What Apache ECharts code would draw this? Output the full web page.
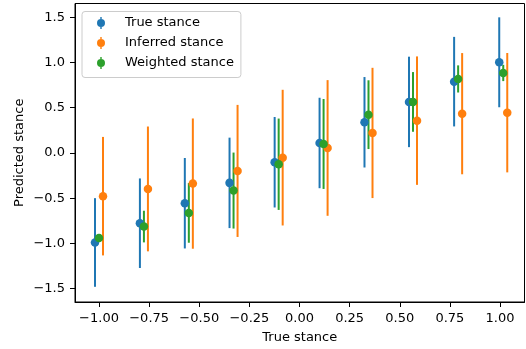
<!DOCTYPE html>
<html>
<head>
<meta charset="utf-8">
<script src="https://cdn.jsdelivr.net/npm/echarts@6/dist/echarts.min.js"></script>
<style>
  html, body { margin: 0; padding: 0; background: #fff; }
  #chart { width: 526px; height: 349px; }
</style>
</head>
<body>
<div id="chart"></div>
<script>
// true-stance bins (x of the blue points); other series sit slightly right of them
const binX = [-1.02, -0.796, -0.572, -0.349, -0.124, 0.1, 0.324, 0.546, 0.771, 0.996];

// [mean, error] per bin
const trueStance = [
  [-0.99, 0.49], [-0.777, 0.495], [-0.556, 0.5], [-0.331, 0.5], [-0.103, 0.5],
  [0.11, 0.5], [0.339, 0.5], [0.564, 0.5], [0.788, 0.495], [1.002, 0.497]
];
const inferredStance = [
  [-0.478, 0.655], [-0.398, 0.69], [-0.339, 0.72], [-0.199, 0.73], [-0.052, 0.75],
  [0.055, 0.75], [0.221, 0.72], [0.357, 0.71], [0.434, 0.67], [0.445, 0.66]
];
const weightedStance = [
  [-0.94, 0.04], [-0.814, 0.175], [-0.663, 0.33], [-0.416, 0.42], [-0.125, 0.505],
  [0.099, 0.497], [0.423, 0.38], [0.564, 0.33], [0.818, 0.15], [0.884, 0.09]
];

const xTicks = [-1, -0.75, -0.5, -0.25, 0, 0.25, 0.5, 0.75, 1];
const yTicks = [-1.5, -1, -0.5, 0, 0.5, 1, 1.5];

const FONT = 'DejaVu Sans';
const minus = (v, d) => (v < 0 ? '\u2212' : '') + Math.abs(v).toFixed(d);

// errorbar marker for the legend: dot with a vertical bar through it
const legendIcon = 'path://M0,6A4,4,0,1,1,8,6A4,4,0,1,1,0,6ZM3.3,0L4.7,0L4.7,12L3.3,12Z';

const groups = [
  { name: 'True stance', color: '#1f77b4', data: trueStance, dx: 0 },
  { name: 'Inferred stance', color: '#ff7f0e', data: inferredStance, dx: 0.04 },
  { name: 'Weighted stance', color: '#2ca02c', data: weightedStance, dx: 0.02 }
];

const series = [];
groups.forEach((g) => {
  const rows = g.data.map((d, i) => [binX[i] + g.dx, d[0], d[1]]);
  series.push({
    type: 'custom',
    name: g.name,
    data: rows,
    itemStyle: { color: g.color },
    z: 2,
    renderItem: (params, api) => {
      const x = api.value(0), y = api.value(1), e = api.value(2);
      const a = api.coord([x, y - e]);
      const b = api.coord([x, y + e]);
      return {
        type: 'line',
        shape: { x1: a[0], y1: a[1], x2: b[0], y2: b[1] },
        style: { stroke: g.color, lineWidth: 2 }
      };
    }
  });
  series.push({
    type: 'scatter',
    name: g.name,
    data: rows.map((r) => [r[0], r[1]]),
    symbol: 'circle',
    symbolSize: 8.5,
    itemStyle: { color: g.color, opacity: 1 },
    z: 2
  });
});

const chart = echarts.init(document.getElementById('chart'), null, { renderer: 'canvas' });
chart.setOption({
  animation: false,
  backgroundColor: '#fff',
  textStyle: { fontFamily: FONT },
  grid: { left: 75, top: 3.5, right: 1.5, bottom: 46.3, show: true, borderColor: '#000', borderWidth: 1 },
  legend: {
    orient: 'vertical',
    left: 82,
    top: 11.5,
    padding: [5, 7, 8, 15],
    itemGap: 7,
    itemWidth: 8,
    itemHeight: 12,
    backgroundColor: 'rgba(255,255,255,0.8)',
    borderColor: '#cccccc',
    borderWidth: 1,
    borderRadius: 3,
    textStyle: { fontFamily: FONT, fontSize: 13, color: '#000', padding: [0, 0, 0, 15] },
    data: groups.map((g) => ({ name: g.name, icon: legendIcon }))
  },
  xAxis: {
    type: 'value',
    min: -1.1197,
    max: 1.122,
    name: 'True stance',
    nameLocation: 'middle',
    nameGap: 29,
    nameMoveOverlap: false,
    nameTextStyle: { fontFamily: FONT, fontSize: 13, color: '#000' },
    axisLine: { onZero: false, lineStyle: { color: '#000', width: 1 } },
    axisTick: { show: true, length: 5, lineStyle: { color: '#000', width: 1 }, customValues: xTicks },
    axisLabel: {
      fontFamily: FONT, fontSize: 13, color: '#000', margin: 10,
      customValues: xTicks,
      formatter: (v) => minus(v, 2)
    },
    splitLine: { show: false }
  },
  yAxis: {
    type: 'value',
    min: -1.648,
    max: 1.652,
    name: 'Predicted stance',
    nameLocation: 'middle',
    nameGap: 49,
    nameMoveOverlap: false,
    nameTextStyle: { fontFamily: FONT, fontSize: 13, color: '#000' },
    axisLine: { show: true, onZero: false, lineStyle: { color: '#000', width: 1 } },
    axisTick: { show: true, length: 5, lineStyle: { color: '#000', width: 1 }, customValues: yTicks },
    axisLabel: {
      fontFamily: FONT, fontSize: 13, color: '#000', margin: 10,
      customValues: yTicks,
      formatter: (v) => minus(v, 1)
    },
    splitLine: { show: false }
  },
  series: series
});
</script>
</body>
</html>
